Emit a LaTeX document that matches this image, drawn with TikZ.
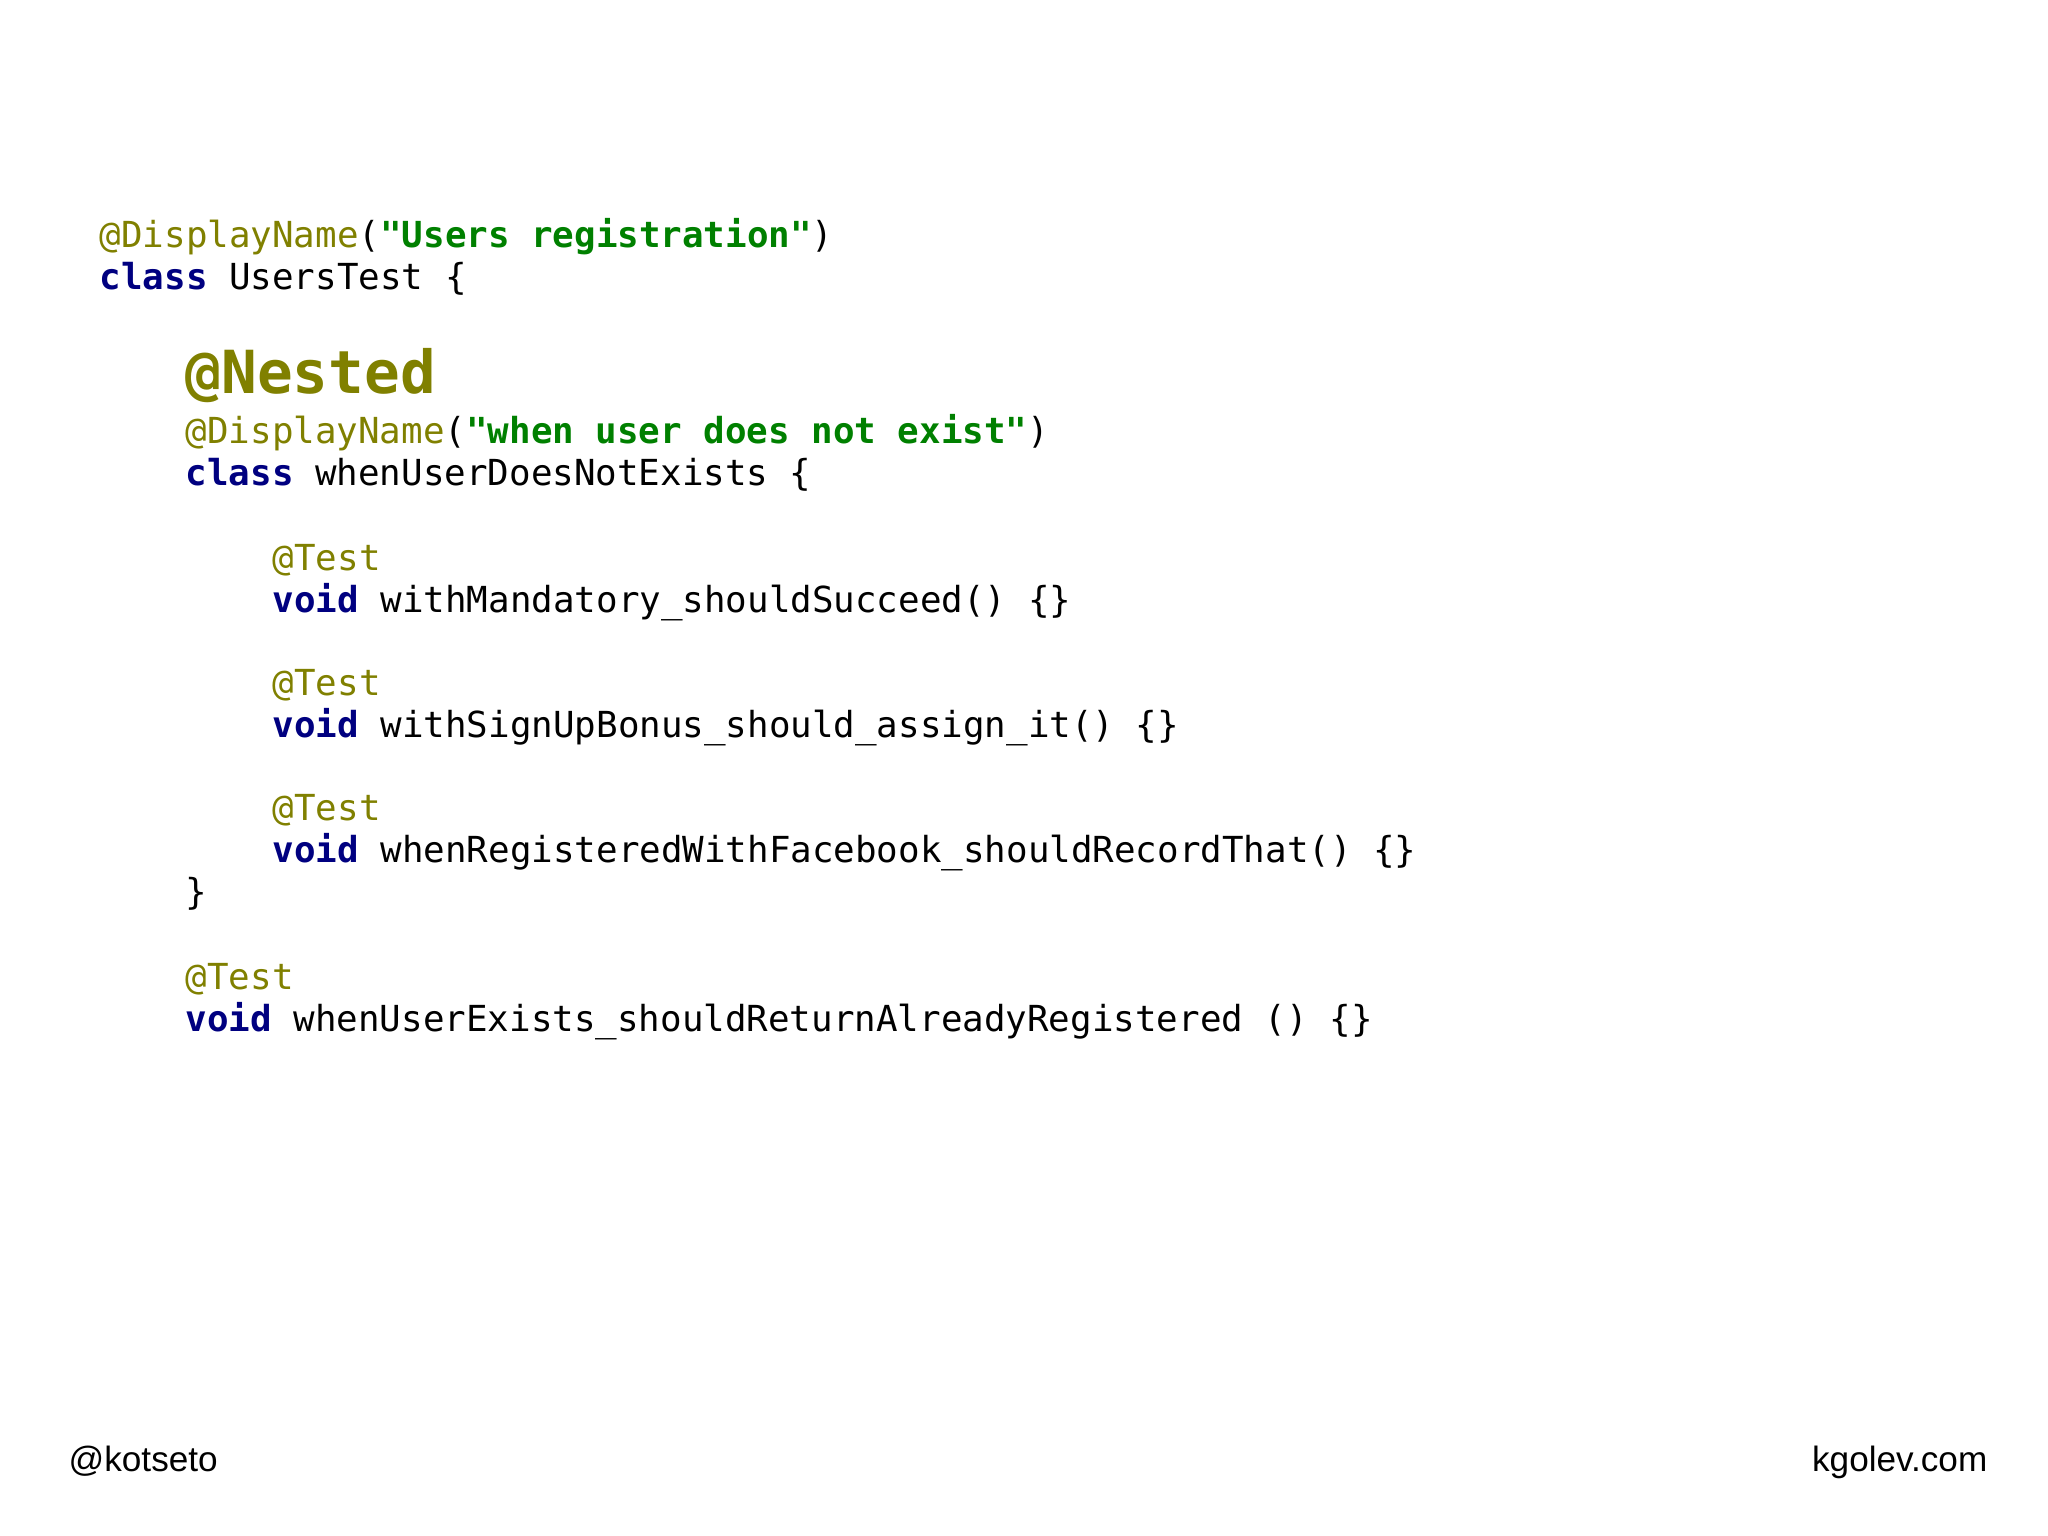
\documentclass[tikz,border=0pt]{standalone}
\usepackage{fontspec}
\setmonofont{DejaVu Sans Mono}
\newfontfamily\footfont{Liberation Sans}
\definecolor{anno}{HTML}{808000}
\definecolor{strg}{HTML}{008000}
\definecolor{kw}{HTML}{000080}
\newcommand\myA[1]{\textcolor{anno}{#1}}
\newcommand\myS[1]{\textcolor{strg}{\bfseries #1}}
\newcommand\myK[1]{\textcolor{kw}{\bfseries #1}}
\begin{document}
\begin{tikzpicture}[x=1cm,y=1cm,
  code/.style={anchor=base west,inner sep=0pt,font=\ttfamily\fontsize{10.2}{12}\selectfont},
  foot/.style={inner sep=0pt,font=\footfont\fontsize{10}{12}\selectfont}]
\useasboundingbox (0,0) rectangle (20.48,15.36);
\node[code] (l1) at (0.99,{15.36-2.48}) {\myA{@DisplayName}(\myS{"Users registration"})};
\node[code] (l2) at (0.99,{15.36-2.90}) {\myK{class} UsersTest \{};
\node[code,font=\ttfamily\bfseries\fontsize{16.9}{19}\selectfont,text=anno] (l3) at (1.85,{15.36-3.94}) {@Nested};
\node[code] (l4) at (1.85,{15.36-4.44}) {\myA{@DisplayName}(\myS{"when user does not exist"})};
\node[code] (l5) at (1.85,{15.36-4.86}) {\myK{class} whenUserDoesNotExists \{};
\node[code] (l6) at (2.72,{15.36-5.71}) {\myA{@Test}};
\node[code] (l7) at (2.72,{15.36-6.13}) {\myK{void} withMandatory\_shouldSucceed() \{\}};
\node[code] (l8) at (2.72,{15.36-6.96}) {\myA{@Test}};
\node[code] (l9) at (2.72,{15.36-7.38}) {\myK{void} withSignUpBonus\_should\_assign\_it() \{\}};
\node[code] (l10) at (2.72,{15.36-8.21}) {\myA{@Test}};
\node[code] (l11) at (2.72,{15.36-8.63}) {\myK{void} whenRegisteredWithFacebook\_shouldRecordThat() \{\}};
\node[code] (l12) at (1.85,{15.36-9.05}) {\}};
\node[code] (l13) at (1.85,{15.36-9.90}) {\myA{@Test}};
\node[code] (l14) at (1.85,{15.36-10.32}) {\myK{void} whenUserExists\_shouldReturnAlreadyRegistered () \{\}};
\node[foot,anchor=base west] (f1) at (0.68,{15.36-14.72}) {@kotseto};
\node[foot,anchor=base east] (f2) at (19.88,{15.36-14.72}) {kgolev.com};
\end{tikzpicture}
\end{document}
